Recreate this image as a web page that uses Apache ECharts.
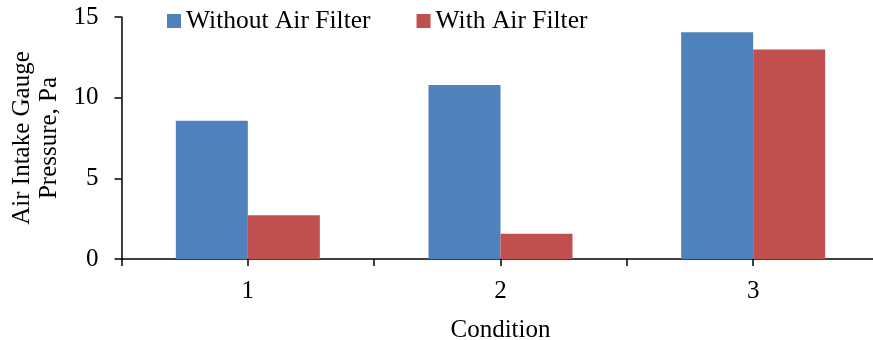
<!DOCTYPE html>
<html><head><meta charset="utf-8">
<script src="https://cdn.jsdelivr.net/npm/echarts@6/dist/echarts.min.js"></script>
<style>html,body{margin:0;padding:0;background:#fff}#c{width:873px;height:340px}</style>
</head><body><div id="c"></div>
<script>
const categories = ['1', '2', '3'];
const withoutFilter = [8.57, 10.79, 14.05];
const withFilter = [2.71, 1.57, 12.98];
const seriesNames = ['Without Air Filter', 'With Air Filter'];
const yTicks = { min: 0, max: 15, interval: 5 };

const font = '"Liberation Serif", "Times New Roman", serif';
const chart = echarts.init(document.getElementById('c'));
const axisLine = { show: true, lineStyle: { color: '#000', width: 1.5 } };
chart.setOption({
  animation: false,
  textStyle: { fontFamily: font, color: '#000' },
  legend: {
    left: 167, top: 8, padding: 0, itemWidth: 14, itemHeight: 14, itemGap: 46,
    icon: 'rect',
    textStyle: { fontFamily: font, fontSize: 25.5, color: '#000' },
    data: seriesNames
  },
  grid: { left: 121.5, width: 758, top: 17, bottom: 81, containLabel: false, outerBoundsMode: 'none' },
  xAxis: [{
    type: 'category', data: categories, position: 'bottom',
    axisLine: axisLine,
    axisTick: { show: true, length: 7, lineStyle: { color: '#000', width: 1.5 } },
    axisLabel: { fontFamily: font, fontSize: 25, color: '#000', margin: 20 },
    name: 'Condition', nameLocation: 'middle', nameGap: 59,
    nameTextStyle: { fontFamily: font, fontSize: 25, color: '#000' },
    splitLine: { show: false }
  }, {
    type: 'category', data: categories, position: 'bottom',
    axisLine: { show: false },
    axisTick: { show: true, alignWithLabel: true, length: 7, lineStyle: { color: '#000', width: 1.5 } },
    axisLabel: { show: false },
    splitLine: { show: false }
  }],
  yAxis: {
    type: 'value', min: yTicks.min, max: yTicks.max, interval: yTicks.interval,
    axisLine: axisLine,
    axisTick: { show: true, length: 7, lineStyle: { color: '#000', width: 1.5 } },
    axisLabel: { fontFamily: font, fontSize: 25, color: '#000', margin: 23 },
    splitLine: { show: false },
    name: 'Air Intake Gauge\nPressure, Pa', nameLocation: 'middle', nameRotate: 90, nameGap: 58,
    nameTextStyle: { fontFamily: font, fontSize: 25, color: '#000', lineHeight: 27 }
  },
  series: [{
    name: seriesNames[0], type: 'bar', data: withoutFilter, xAxisIndex: 0,
    barWidth: 72, barGap: '0%', itemStyle: { color: '#4F81BD' }
  }, {
    name: seriesNames[1], type: 'bar', data: withFilter, xAxisIndex: 0,
    barWidth: 72, barGap: '0%', itemStyle: { color: '#C0504D' }
  }]
});
</script></body></html>
